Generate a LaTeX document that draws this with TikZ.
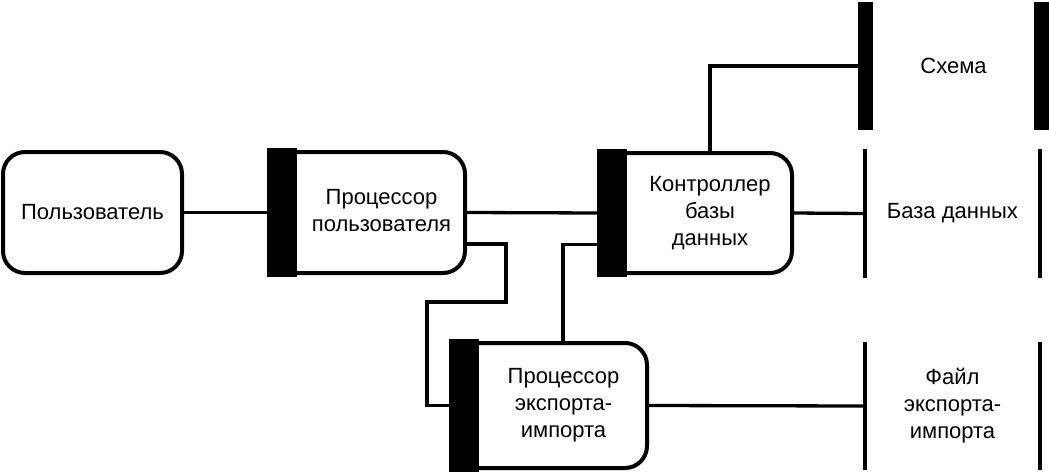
\documentclass[tikz,border=0pt]{standalone}
\usepackage{fontspec}
\setmainfont{Liberation Sans}
\usetikzlibrary{calc}
\newcommand{\proctext}[1]{\hspace*{27pt}\begin{tabular}{@{}c@{}}#1\end{tabular}}
\newcommand{\plaintext}[1]{\begin{tabular}{@{}c@{}}#1\end{tabular}}
\tikzset{
  every node/.style={font=\fontsize{22}{27}\selectfont, inner sep=0pt},
  userbox/.style={draw, line width=4pt, rounded corners=22pt, fill=white},
  procbox/.style={draw, line width=4pt, rounded corners=22pt, fill=white},
  store/.style={minimum height=128pt},
  conn/.style={line width=3.3pt},
}
\begin{document}
\begin{tikzpicture}[x=1pt,y=-1pt]
\useasboundingbox (0,0) rectangle (1049,471);
% process boxes
\node[userbox, minimum width=179pt, minimum height=121pt] (user) at (92.5,212.5) {Пользователь};
\node[procbox, minimum width=194pt, minimum height=121pt] (pp) at (368,212.5) {\proctext{Процессор\\пользователя}};
\node[procbox, minimum width=191pt, minimum height=120pt] (ctrl) at (696.5,213) {\proctext{Контроллер\\базы\\данных}};
\node[procbox, minimum width=194pt, minimum height=125pt] (ex) at (550,405.5) {\proctext{Процессор\\экспорта-\\импорта}};
% black bars on processors
\foreach \n in {pp,ctrl,ex}{
  \fill ([xshift=-2pt,yshift=2pt]\n.north west) rectangle ([xshift=28pt,yshift=-2pt]\n.south west);
}
% data stores
\node[store, minimum width=191pt] (schema) at (953.5,66) {Схема};
\node[store, minimum width=179pt] (db) at (952.5,213.5) {База данных};
\node[store, minimum width=179pt] (file) at (952.5,406) {\plaintext{Файл\\экспорта-\\импорта}};
\fill (schema.north west) rectangle ([xshift=15pt]schema.south west);
\fill ([xshift=-15pt]schema.north east) rectangle (schema.south east);
\foreach \n in {db,file}{
  \fill (\n.north west) rectangle ([xshift=4pt]\n.south west);
  \fill ([xshift=-4pt]\n.north east) rectangle (\n.south east);
}
% connectors
\draw[conn] (user.east) -- (pp.west);
\draw[conn] (pp.east) -- (ctrl.west);
\draw[conn] ([yshift=-31.5pt]pp.east) -- ++(39,0) |- (427,302) |- (ex.west);
\draw[conn] ([yshift=-31.5pt]ctrl.west) -| ([xshift=13pt]ex.north);
\draw[conn] ([xshift=13.5pt]ctrl.north) |- (schema.west);
\draw[conn] (ctrl.east) -- (db.west);
\draw[conn] (ex.east) -- (file.west);
\end{tikzpicture}
\end{document}
